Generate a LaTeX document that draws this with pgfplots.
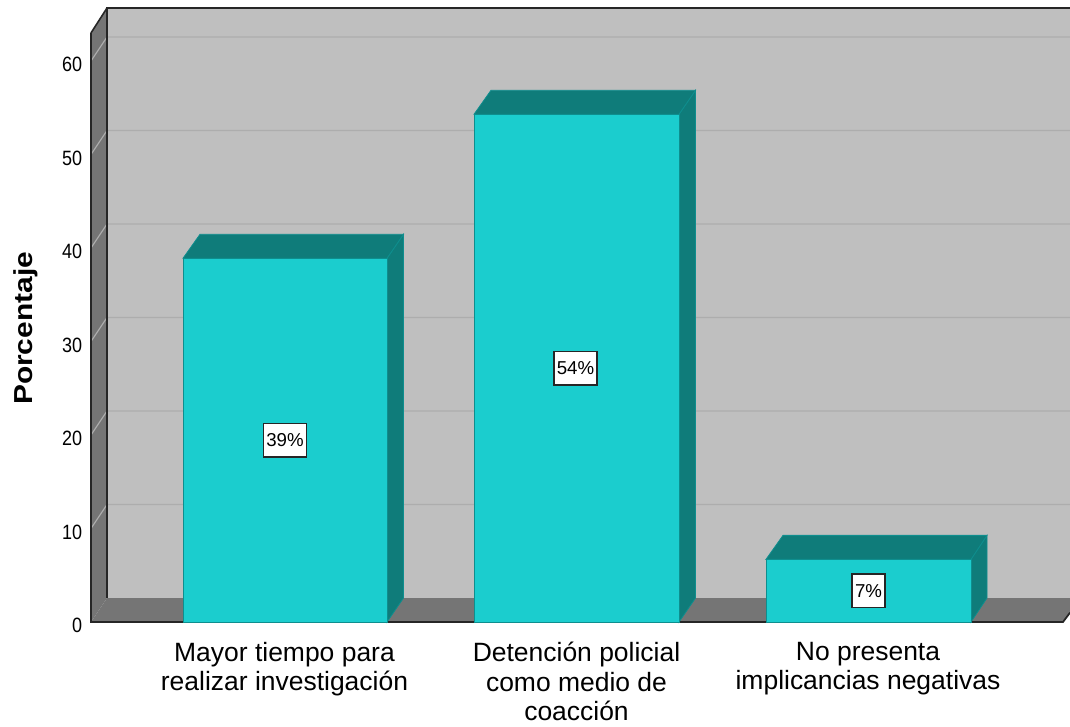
\documentclass[border=0pt]{standalone}
\usepackage{pgfplots}
\pgfplotsset{compat=1.18}
\usepackage{fontspec}
\setmainfont{Liberation Sans}
\definecolor{wall}{HTML}{BFBFBF}
\definecolor{side}{HTML}{757575}
\definecolor{gridc}{HTML}{ADADAD}
\definecolor{barf}{HTML}{1BCDCE}
\definecolor{bard}{HTML}{0F7C7A}
\definecolor{barl}{HTML}{0E8E8E}
\begin{document}
\begin{tikzpicture}
\begin{axis}[
  scale only axis, width=734.25pt, height=466.5pt,
  xmin=91, xmax=1070, ymin=0, ymax=66.524, clip=false,
  axis line style={draw=none}, tick style={draw=none},
  xtick={284.5,576.5,868}, ytick={0,10,20,30,40,50,60},
  xticklabels={{Mayor tiempo para\\realizar investigación},{Detención policial\\como medio de\\coacción},{No presenta\\implicancias negativas}},
  xticklabel style={align=center,font=\fontsize{19.85pt}{22.2pt}\selectfont,yshift=-11.5pt},
  yticklabel={\scalebox{1}[1.15]{\pgfmathprintnumber[assume math mode=true]{\tick}}},
  yticklabel style={font=\fontsize{13.5pt}{15pt}\selectfont,yshift=-2.7pt,xshift=-3.2pt},
  ylabel={\scalebox{1.15}[1]{\textbf{Porcentaje}}},
  ylabel style={at={(axis cs:26,31.4)},anchor=center,font=\fontsize{19.5pt}{21pt}\selectfont},
]
% back wall
\addplot[fill=wall,draw=none] coordinates {(107,2.567)(1070,2.567)(1070,65.668)(107,65.668)} --cycle;
% left wall
\addplot[fill=side,draw=none] coordinates {(91,0)(107,2.567)(107,65.668)(91,63.0)} --cycle;
% floor
\addplot[fill=side,draw=none] coordinates {(91,0)(107,2.567)(1070,2.567)(1070,1.0)(1063,0)} --cycle;
% gridlines
\addplot[gridc,line width=.9pt] coordinates {(91,10)(107,12.567)(1070,12.567)};
\addplot[gridc,line width=.9pt] coordinates {(91,20)(107,22.567)(1070,22.567)};
\addplot[gridc,line width=.9pt] coordinates {(91,30)(107,32.567)(1070,32.567)};
\addplot[gridc,line width=.9pt] coordinates {(91,40)(107,42.567)(1070,42.567)};
\addplot[gridc,line width=.9pt] coordinates {(91,50)(107,52.567)(1070,52.567)};
\addplot[gridc,line width=.9pt] coordinates {(91,60)(107,62.567)(1070,62.567)};
% frame lines
\addplot[black!85,line width=1.9pt] coordinates {(107,2.567)(107,65.668)(1070,65.668)};
\addplot[black!85,line width=1.2pt] coordinates {(91,63.0)(107,65.668)};
\addplot[black!85,line width=1.3pt] coordinates {(91,63.0)(91,0)(1063,0)(1070,1.0)};
% bar 1
\addplot[fill=bard,draw=barl,line width=.6pt] coordinates {(387,0)(403.5,2.567)(403.5,41.467)(387,38.9)} --cycle;
\addplot[fill=bard,draw=barl,line width=.6pt] coordinates {(183,38.9)(200,41.467)(403.5,41.467)(387,38.9)} --cycle;
\addplot[fill=barf,draw=barl,line width=.6pt] coordinates {(183,0)(387,0)(387,38.9)(183,38.9)} --cycle;
% bar 2
\addplot[fill=bard,draw=barl,line width=.6pt] coordinates {(679,0)(695.5,2.567)(695.5,56.867)(679,54.3)} --cycle;
\addplot[fill=bard,draw=barl,line width=.6pt] coordinates {(474,54.3)(491,56.867)(695.5,56.867)(679,54.3)} --cycle;
\addplot[fill=barf,draw=barl,line width=.6pt] coordinates {(474,0)(679,0)(679,54.3)(474,54.3)} --cycle;
% bar 3
\addplot[fill=bard,draw=barl,line width=.6pt] coordinates {(971,0)(987,2.567)(987,9.267)(971,6.7)} --cycle;
\addplot[fill=bard,draw=barl,line width=.6pt] coordinates {(766,6.7)(783,9.267)(987,9.267)(971,6.7)} --cycle;
\addplot[fill=barf,draw=barl,line width=.6pt] coordinates {(766,0)(971,0)(971,6.7)(766,6.7)} --cycle;
% value labels
\node[draw=black!85,fill=white,line width=1.1pt,inner sep=0pt,minimum width=32.5pt,minimum height=25pt,font=\fontsize{14pt}{16pt}\selectfont] at (axis cs:285,19.45) {39\%};
\node[draw=black!85,fill=white,line width=1.1pt,inner sep=0pt,minimum width=32.5pt,minimum height=25pt,font=\fontsize{14pt}{16pt}\selectfont] at (axis cs:575.5,27.15) {54\%};
\node[draw=black!85,fill=white,line width=1.1pt,inner sep=0pt,minimum width=25pt,minimum height=25pt,font=\fontsize{14pt}{16pt}\selectfont] at (axis cs:868.5,3.35) {7\%};
\end{axis}
\pgfresetboundingbox
\path (-68.25pt,-78pt) rectangle (734.25pt,466.5pt);
\end{tikzpicture}
\end{document}
